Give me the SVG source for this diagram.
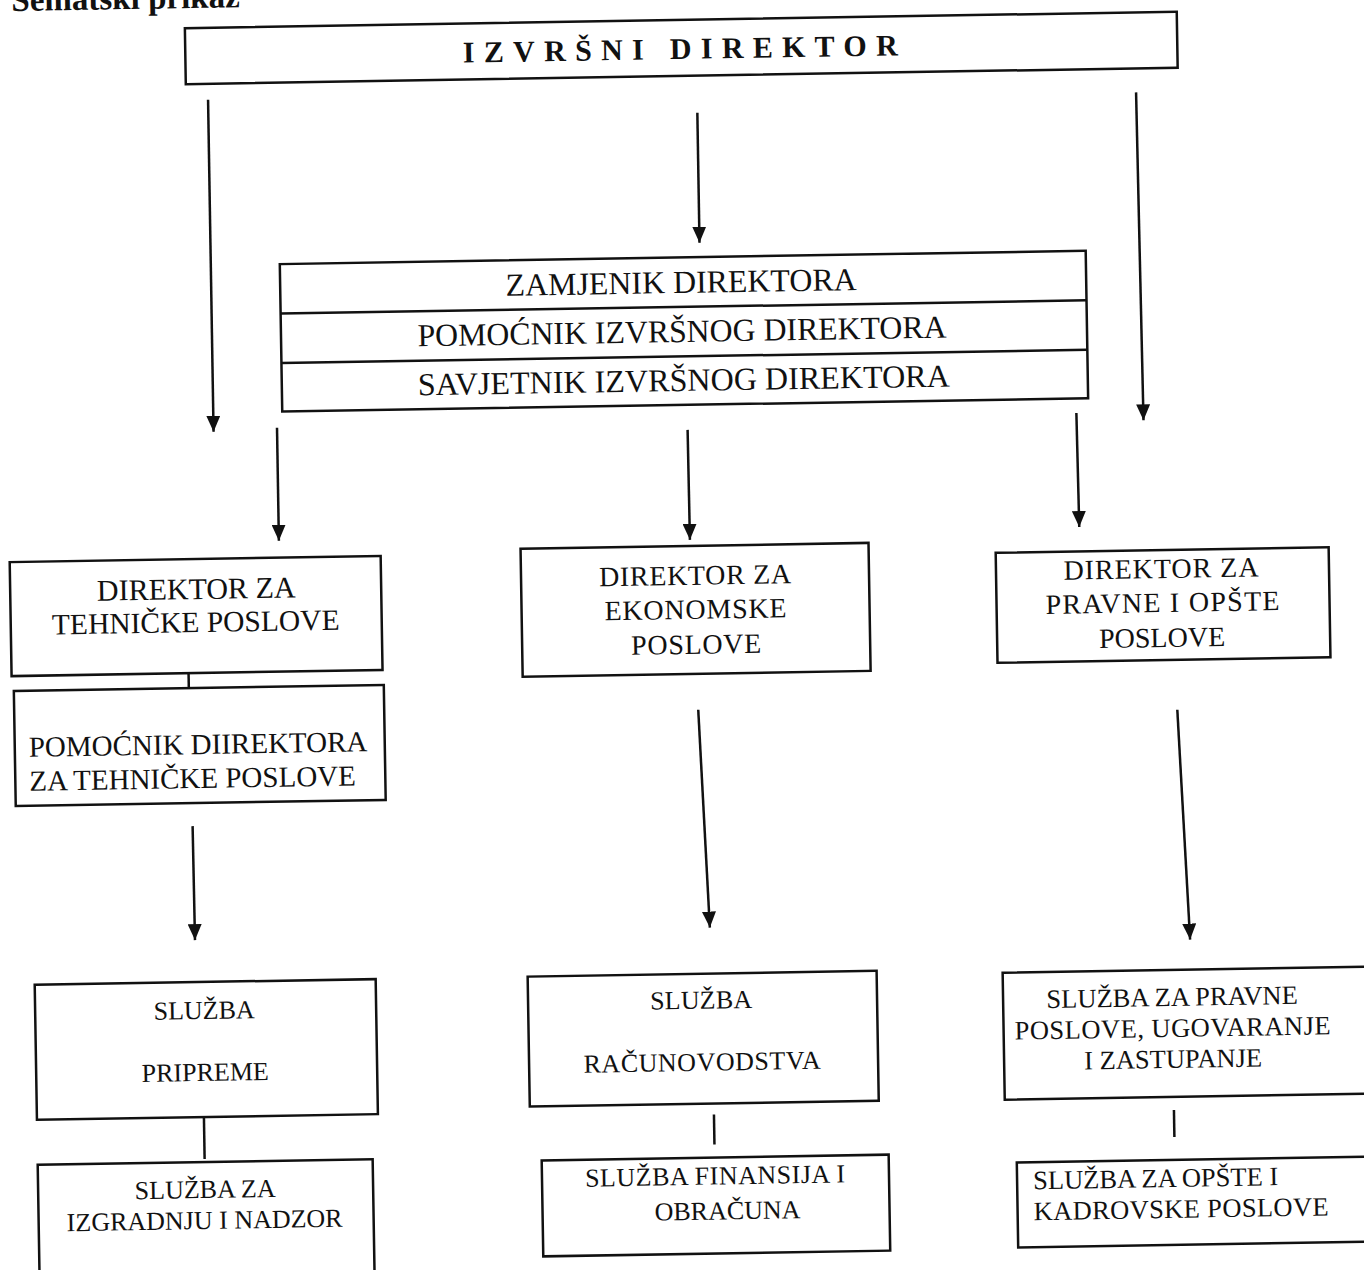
<svg xmlns="http://www.w3.org/2000/svg" width="1364" height="1270" viewBox="0 0 1364 1270">
<style>
.box{fill:#fff;stroke:#111;stroke-width:2.5}
.div{stroke:#111;stroke-width:2.5}
.t{font-family:"Liberation Serif","Times New Roman",serif;fill:#111;text-anchor:middle}
.tl{font-family:"Liberation Serif","Times New Roman",serif;fill:#111;text-anchor:start}
.c{stroke:#111;stroke-width:2.5;fill:none}
.a{stroke:#111;stroke-width:2.5;fill:none;marker-end:url(#ah)}
</style>
<defs>
<marker id="ah" markerUnits="userSpaceOnUse" viewBox="0 -7 16 14" refX="16" refY="0" markerWidth="16" markerHeight="14" orient="auto">
<path d="M0,-7 L16,0 L0,7 z" fill="#111"/>
</marker>
</defs>
<rect width="1364" height="1270" fill="#fff"/>
<g transform="rotate(-0.95 682 635)">
<text class="tl" x="22" y="0" font-size="33" font-weight="bold">Šematski prikaz</text>

<g id="connectors">
<line class="a" x1="217" y1="92" x2="217" y2="424"/>
<line class="a" x1="706" y1="113" x2="706" y2="243"/>
<line class="a" x1="1145" y1="100" x2="1147" y2="428"/>
<line class="a" x1="280.5" y1="421" x2="280.5" y2="534"/>
<line class="a" x1="691" y1="430" x2="691.5" y2="540"/>
<line class="a" x1="1080" y1="419.5" x2="1081" y2="533.6"/>
<line class="c" x1="188" y1="665" x2="188" y2="680" stroke-width="2"/>
<line class="a" x1="189.5" y1="818" x2="190" y2="932"/>
<line class="c" x1="196" y1="1109" x2="196" y2="1151" stroke-width="2"/>
<line class="a" x1="697" y1="710" x2="705" y2="928"/>
<line class="c" x1="706" y1="1115" x2="706" y2="1145" stroke-width="2"/>
<line class="a" x1="1176" y1="718" x2="1185" y2="948"/>
<line class="c" x1="1166" y1="1118" x2="1166" y2="1145" stroke-width="2"/>
</g>

<g id="izvrsni">
<rect class="box" x="195" y="20" width="992" height="56" stroke-width="3"/>
<text class="t" x="690" y="59" font-size="30" font-weight="bold" textLength="435" lengthAdjust="spacing">IZVRŠNI DIREKTOR</text>
</g>

<g id="zamjenik">
<rect class="box" x="286" y="257.5" width="806" height="147.5"/>
<line class="div" x1="286" y1="307" x2="1092" y2="307"/>
<line class="div" x1="286" y1="356.5" x2="1092" y2="356.5"/>
<text class="t" x="687" y="293" font-size="32" textLength="351" lengthAdjust="spacingAndGlyphs">ZAMJENIK DIREKTORA</text>
<text class="t" x="687" y="342" font-size="32" textLength="529" lengthAdjust="spacingAndGlyphs">POMOĆNIK IZVRŠNOG DIREKTORA</text>
<text class="t" x="688" y="391" font-size="32" textLength="532" lengthAdjust="spacingAndGlyphs">SAVJETNIK IZVRŠNOG DIREKTORA</text>
</g>

<g id="dir-tehnicke">
<rect class="box" x="11" y="551" width="371" height="114"/>
<text class="t" x="197" y="591" font-size="30">DIREKTOR  ZA</text>
<text class="t" x="196" y="624" font-size="29.5">TEHNIČKE POSLOVE</text>
</g>

<g id="pom-tehnicke">
<rect class="box" x="13" y="680" width="370" height="115"/>
<text class="tl" x="27" y="746" font-size="29">POMOĆNIK DIIREKTORA</text>
<text class="tl" x="27" y="780" font-size="29">ZA TEHNIČKE POSLOVE</text>
</g>

<g id="sluzba-pripreme">
<rect class="box" x="29" y="974" width="341" height="135"/>
<text class="t" x="198" y="1011" font-size="26">SLUŽBA</text>
<text class="t" x="198" y="1073" font-size="26">PRIPREME</text>
</g>

<g id="sluzba-izgradnja">
<rect class="box" x="29" y="1154" width="335" height="200"/>
<text class="t" x="196" y="1190" font-size="26">SLUŽBA ZA</text>
<text class="t" x="195" y="1221" font-size="26">IZGRADNJU I NADZOR</text>
</g>

<g id="dir-ekonomske">
<rect class="box" x="522" y="546" width="348" height="128"/>
<text class="t" x="696" y="585" font-size="28" textLength="192" lengthAdjust="spacing">DIREKTOR ZA</text>
<text class="t" x="696" y="619" font-size="28" textLength="182" lengthAdjust="spacing">EKONOMSKE</text>
<text class="t" x="696" y="654" font-size="28" textLength="130" lengthAdjust="spacing">POSLOVE</text>
</g>

<g id="sluzba-racunovodstva">
<rect class="box" x="522" y="974" width="349" height="130"/>
<text class="t" x="695" y="1009" font-size="26" textLength="102" lengthAdjust="spacing">SLUŽBA</text>
<text class="t" x="695" y="1071" font-size="26" textLength="237" lengthAdjust="spacing">RAČUNOVODSTVA</text>
</g>

<g id="sluzba-finansija">
<rect class="box" x="533" y="1158" width="347" height="96"/>
<text class="t" x="706" y="1185" font-size="26" textLength="260" lengthAdjust="spacing">SLUŽBA FINANSIJA I</text>
<text class="t" x="718" y="1220" font-size="26">OBRAČUNA</text>
</g>

<g id="dir-pravne">
<rect class="box" x="997" y="558" width="333" height="110"/>
<text class="t" x="1162" y="586" font-size="28" textLength="195" lengthAdjust="spacing">DIREKTOR ZA</text>
<text class="t" x="1163" y="620" font-size="28" textLength="234" lengthAdjust="spacing">PRAVNE I OPŠTE</text>
<text class="t" x="1162" y="655" font-size="28">POSLOVE</text>
</g>

<g id="sluzba-pravne">
<rect class="box" x="997" y="978" width="380" height="127"/>
<text class="t" x="1166" y="1014" font-size="26.5">SLUŽBA ZA PRAVNE</text>
<text class="t" x="1166" y="1045" font-size="26.5" textLength="316" lengthAdjust="spacing">POSLOVE, UGOVARANJE</text>
<text class="t" x="1166" y="1076" font-size="26.5">I ZASTUPANJE</text>
</g>

<g id="sluzba-opste">
<rect class="box" x="1008" y="1168" width="370" height="85"/>
<text class="tl" x="1024" y="1195" font-size="26.5">SLUŽBA ZA OPŠTE I</text>
<text class="tl" x="1024" y="1226" font-size="26.5" textLength="295" lengthAdjust="spacing">KADROVSKE POSLOVE</text>
</g>
</g>
</svg>
